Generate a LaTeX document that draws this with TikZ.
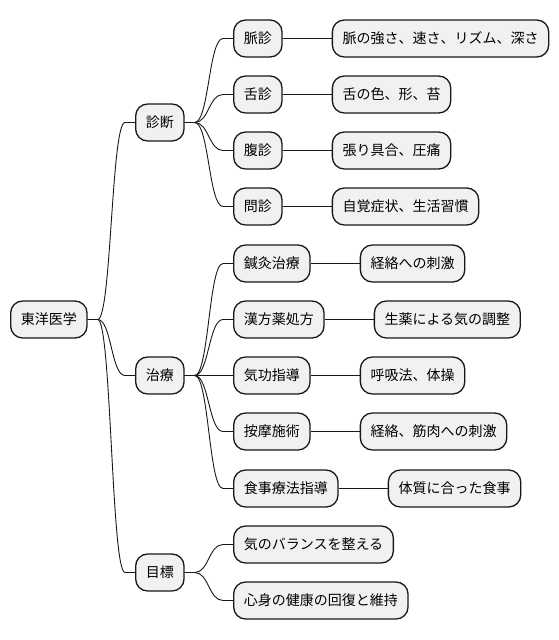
\documentclass[tikz,border=0pt]{standalone}
\usepackage{fontspec}
\newfontfamily\cjk{Noto Sans CJK JP}
\usetikzlibrary{positioning,calc}
\definecolor{boxfill}{HTML}{F1F1F1}
\definecolor{boxline}{HTML}{181818}
\tikzset{
  mmnode/.style={draw=boxline, fill=boxfill, line width=1.3pt, rounded corners=12pt,
    minimum height=37pt, inner xsep=10.2pt, inner ysep=0pt, anchor=west,
    font=\cjk\fontsize{14pt}{14pt}\selectfont},
  link/.style={draw=boxline, line width=0.9pt},
  leafgap/.style={right=49pt of #1}
}
% curved connector: from parent east to child west
\newcommand{\mmlink}[2]{%
  \draw[link] (#1.east) -- ++(10pt,0) coordinate (#1#2a)
    let \p1=(#1#2a), \p2=(#2.west) in
    .. controls ({(\x1+\x2-10pt)/2},\y1) and ({(\x1+\x2-10pt)/2},\y2) .. ({\x2-10pt},\y2) -- (#2.west);}
\begin{document}
\begin{tikzpicture}[x=1pt,y=1pt]
\useasboundingbox (0,0) rectangle (558,-640);
% root
\node[mmnode] (root) at (10,-319.5) {東洋医学};
% level 1
\node[mmnode] (shin) at (135,-122.5) {診断};
\node[mmnode] (chi) at (135,-375.5) {治療};
\node[mmnode] (moku) at (135,-572.5) {目標};
% diagnosis
\node[mmnode] (d1) at (233,-38.5) {脈診};
\node[mmnode] (d2) at (233,-94.5) {舌診};
\node[mmnode] (d3) at (233,-150.5) {腹診};
\node[mmnode] (d4) at (233,-206.5) {問診};
\node[mmnode, leafgap=d1] (d1l) {脈の強さ、速さ、リズム、深さ};
\node[mmnode, leafgap=d2] (d2l) {舌の色、形、苔};
\node[mmnode, leafgap=d3] (d3l) {張り具合、圧痛};
\node[mmnode, leafgap=d4] (d4l) {自覚症状、生活習慣};
% treatment
\node[mmnode] (t1) at (233,-263.5) {鍼灸治療};
\node[mmnode] (t2) at (233,-319.5) {漢方薬処方};
\node[mmnode] (t3) at (233,-375.5) {気功指導};
\node[mmnode] (t4) at (233,-431.5) {按摩施術};
\node[mmnode] (t5) at (233,-488.5) {食事療法指導};
\node[mmnode, leafgap=t1] (t1l) {経絡への刺激};
\node[mmnode, leafgap=t2] (t2l) {生薬による気の調整};
\node[mmnode, leafgap=t3] (t3l) {呼吸法、体操};
\node[mmnode, leafgap=t4] (t4l) {経絡、筋肉への刺激};
\node[mmnode, leafgap=t5] (t5l) {体質に合った食事};
% goals
\node[mmnode] (g1) at (233,-544.5) {気のバランスを整える};
\node[mmnode] (g2) at (233,-600.5) {心身の健康の回復と維持};
% connectors
\mmlink{root}{shin}
\mmlink{root}{chi}
\mmlink{root}{moku}
\mmlink{shin}{d1}
\mmlink{shin}{d2}
\mmlink{shin}{d3}
\mmlink{shin}{d4}
\mmlink{chi}{t1}
\mmlink{chi}{t2}
\mmlink{chi}{t3}
\mmlink{chi}{t4}
\mmlink{chi}{t5}
\mmlink{moku}{g1}
\mmlink{moku}{g2}
\foreach \a/\b in {d1/d1l,d2/d2l,d3/d3l,d4/d4l,t1/t1l,t2/t2l,t3/t3l,t4/t4l,t5/t5l}
  \draw[link] (\a.east) -- (\b.west);
\end{tikzpicture}
\end{document}
